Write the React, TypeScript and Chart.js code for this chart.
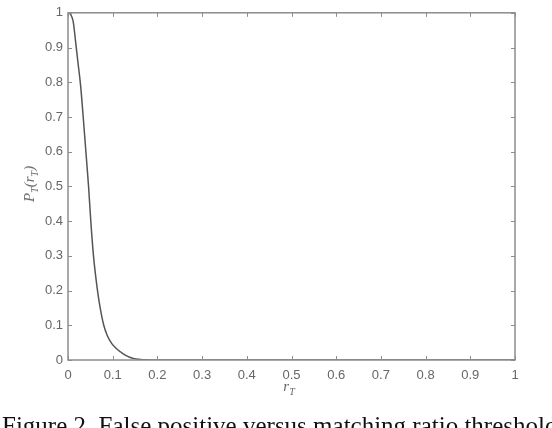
import React, { useEffect, useRef } from "react";
import { Chart, registerables } from "chart.js";

Chart.register(...registerables);

const rValues: number[] = [0, 0.004, 0.008, 0.012, 0.017, 0.022, 0.028, 0.034, 0.04, 0.046, 0.051, 0.057, 0.066, 0.072, 0.08, 0.088, 0.098, 0.108, 0.118, 0.128, 0.138, 0.148, 0.157, 0.17, 0.185, 0.2, 1];
const pValues: number[] = [1, 0.998, 0.99, 0.972, 0.917, 0.86, 0.793, 0.7, 0.6, 0.5, 0.4, 0.3, 0.2, 0.15, 0.1, 0.07, 0.047, 0.033, 0.023, 0.014, 0.008, 0.004, 0.002, 0.0008, 0.0002, 0, 0];
const xTicks: number[] = [0, 0.1, 0.2, 0.3, 0.4, 0.5, 0.6, 0.7, 0.8, 0.9, 1];
const yTicks: number[] = [0, 0.1, 0.2, 0.3, 0.4, 0.5, 0.6, 0.7, 0.8, 0.9, 1];
const caption = "Figure 2. False positive versus matching ratio threshold";

const AXIS_COLOR = "#8c8c8c";
const TEXT_COLOR = "#666666";

const boxPlugin = {
  id: "matlabBox",
  afterDraw(chart: any) {
    const { ctx, chartArea, scales } = chart;
    const { left, right, top, bottom } = chartArea;
    ctx.save();
    ctx.strokeStyle = AXIS_COLOR;
    ctx.lineWidth = 1.5;
    ctx.strokeRect(left, top, right - left, bottom - top);
    ctx.lineWidth = 1;
    const len = 4;
    ctx.beginPath();
    xTicks.forEach((v) => {
      const px = Math.round(scales.x.getPixelForValue(v)) + 0.5;
      ctx.moveTo(px, bottom);
      ctx.lineTo(px, bottom - len);
      ctx.moveTo(px, top);
      ctx.lineTo(px, top + len);
    });
    yTicks.forEach((v) => {
      const py = Math.round(scales.y.getPixelForValue(v)) + 0.5;
      ctx.moveTo(left, py);
      ctx.lineTo(left + len, py);
      ctx.moveTo(right, py);
      ctx.lineTo(right - len, py);
    });
    ctx.stroke();
    ctx.restore();
  },
};

export default function App() {
  const ref = useRef<HTMLCanvasElement | null>(null);

  useEffect(() => {
    if (!ref.current) return;
    const chart = new Chart(ref.current, {
      type: "line",
      data: {
        datasets: [
          {
            data: rValues.map((r, i) => ({ x: r, y: pValues[i] })),
            borderColor: "#555555",
            borderWidth: 1.5,
            pointRadius: 0,
            cubicInterpolationMode: "monotone",
            fill: false,
          },
        ],
      },
      options: {
        animation: false,
        responsive: false,
        maintainAspectRatio: false,
        layout: { padding: { left: 8, top: 8, right: 37, bottom: 0 } },
        plugins: { legend: { display: false }, tooltip: { enabled: false } },
        scales: {
          x: {
            type: "linear",
            min: 0,
            max: 1,
            afterBuildTicks: (scale: any) => {
              scale.ticks = xTicks.map((v) => ({ value: v }));
            },
            afterFit: (scale: any) => {
              scale.height = 68;
            },
            ticks: {
              color: TEXT_COLOR,
              font: { family: "Liberation Sans", size: 13 },
              padding: 8,
              maxRotation: 0,
              callback: (v: any) => String(Math.round(Number(v) * 10) / 10),
            },
            grid: { display: false, drawTicks: false },
            border: { display: false },
          },
          y: {
            type: "linear",
            min: 0,
            max: 1,
            afterBuildTicks: (scale: any) => {
              scale.ticks = yTicks.map((v) => ({ value: v }));
            },
            afterFit: (scale: any) => {
              scale.width = 60;
            },
            ticks: {
              color: TEXT_COLOR,
              font: { family: "Liberation Sans", size: 13 },
              padding: 5,
              callback: (v: any) => String(Math.round(Number(v) * 10) / 10),
            },
            grid: { display: false, drawTicks: false },
            border: { display: false },
          },
        },
      },
      plugins: [boxPlugin],
    } as any);
    return () => chart.destroy();
  }, []);

  return (
    <div
      style={{
        position: "fixed",
        left: 0,
        top: 0,
        width: 552,
        height: 428,
        overflow: "hidden",
        background: "#ffffff",
      }}
    >
      <canvas ref={ref} width={552} height={428} style={{ position: "absolute", left: 0, top: 0 }} />
      <div
        style={{
          position: "absolute",
          left: 32,
          top: 184,
          transform: "translate(-50%, -50%) rotate(-90deg)",
          fontFamily: "Liberation Serif",
          fontStyle: "italic",
          fontSize: 15,
          color: TEXT_COLOR,
          whiteSpace: "nowrap",
          lineHeight: "15px",
        }}
      >
        P<sub style={{ fontSize: 10 }}>T</sub>(r<sub style={{ fontSize: 10 }}>T</sub>)
      </div>
      <div
        style={{
          position: "absolute",
          left: 289,
          top: 389,
          transform: "translate(-50%, -50%)",
          fontFamily: "Liberation Serif",
          fontStyle: "italic",
          fontSize: 15,
          color: TEXT_COLOR,
          whiteSpace: "nowrap",
          lineHeight: "15px",
        }}
      >
        r<sub style={{ fontSize: 10 }}>T</sub>
      </div>
      <div
        style={{
          position: "absolute",
          left: 2,
          top: 413,
          fontFamily: "Liberation Serif",
          fontSize: 25,
          lineHeight: "25px",
          color: "#111111",
          whiteSpace: "nowrap",
        }}
      >
        {caption}
      </div>
    </div>
  );
}
